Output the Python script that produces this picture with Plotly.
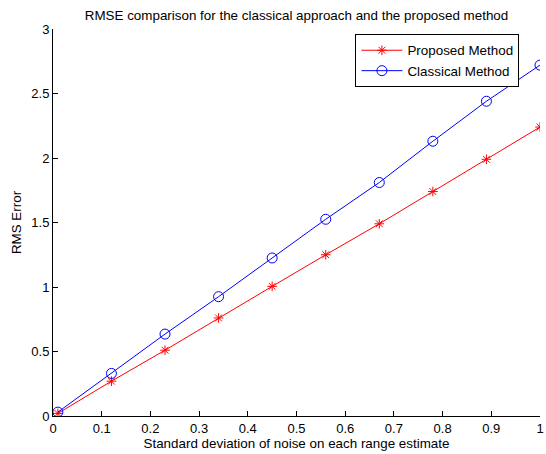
import plotly.graph_objects as go

x_vals = [0.01, 0.12, 0.23, 0.34, 0.45, 0.56, 0.67, 0.78, 0.89, 1.0]
proposed = [0.02, 0.27, 0.51, 0.76, 1.005, 1.25, 1.49, 1.74, 1.99, 2.24]
classical = [0.03, 0.33, 0.635, 0.925, 1.225, 1.525, 1.81, 2.13, 2.44, 2.72]
x_ticks = [0, 0.1, 0.2, 0.3, 0.4, 0.5, 0.6, 0.7, 0.8, 0.9, 1]
x_tick_labels = ["0", "0.1", "0.2", "0.3", "0.4", "0.5", "0.6", "0.7", "0.8", "0.9", "1"]
y_ticks = [0, 0.5, 1, 1.5, 2, 2.5, 3]
y_tick_labels = ["0", "0.5", "1", "1.5", "2", "2.5", "3"]

FAM = "Liberation Sans, Arial, sans-serif"
SZ = 13
TSZ = 13.4
font = dict(family=FAM, size=SZ, color="black")

fig = go.Figure()
fig.add_trace(go.Scatter(
    x=x_vals, y=proposed, mode="lines+markers", name="Proposed Method",
    line=dict(color="red", width=1),
    marker=dict(symbol="asterisk-open", size=8, color="red", line=dict(color="red", width=1)),
))
fig.add_trace(go.Scatter(
    x=x_vals, y=classical, mode="lines+markers", name="Classical Method",
    line=dict(color="blue", width=1),
    marker=dict(symbol="circle-open", size=10, color="blue", line=dict(color="blue", width=1)),
))

fig.update_layout(
    width=546, height=454,
    margin=dict(l=53, r=2, t=29, b=38),
    paper_bgcolor="white", plot_bgcolor="white",
    font=font,
    title=dict(text="RMSE comparison for the classical approach and the proposed method",
               x=0.5, xanchor="center", y=0.967, yanchor="middle",
               xref="paper", font=dict(family=FAM, size=TSZ, color="black")),
    xaxis=dict(range=[0, 1], tickvals=x_ticks, ticktext=x_tick_labels,
               ticks="inside", ticklen=5, tickcolor="black",
               ticklabeloverflow="allow",
               tickfont=dict(family=FAM, size=SZ, color="black"),
               showline=True, linecolor="black", linewidth=1, mirror=False,
               showgrid=False, zeroline=False,
               title=dict(text="Standard deviation of noise on each range estimate", standoff=3,
                          font=dict(family=FAM, size=TSZ, color="black"))),
    yaxis=dict(range=[0, 3], tickvals=y_ticks, ticktext=y_tick_labels,
               ticks="inside", ticklen=5, tickcolor="black",
               tickfont=dict(family=FAM, size=SZ, color="black"),
               showline=True, linecolor="black", linewidth=1, mirror=False,
               showgrid=False, zeroline=False,
               title=dict(text="RMS Error", standoff=6,
                          font=dict(family=FAM, size=TSZ, color="black"))),
    legend=dict(x=0.621, y=0.987, xanchor="left", yanchor="top",
                bordercolor="black", borderwidth=1, bgcolor="white",
                itemwidth=41,
                font=dict(family=FAM, size=TSZ, color="black"), tracegroupgap=0),
    showlegend=True,
)

fig.write_html("out.html")
